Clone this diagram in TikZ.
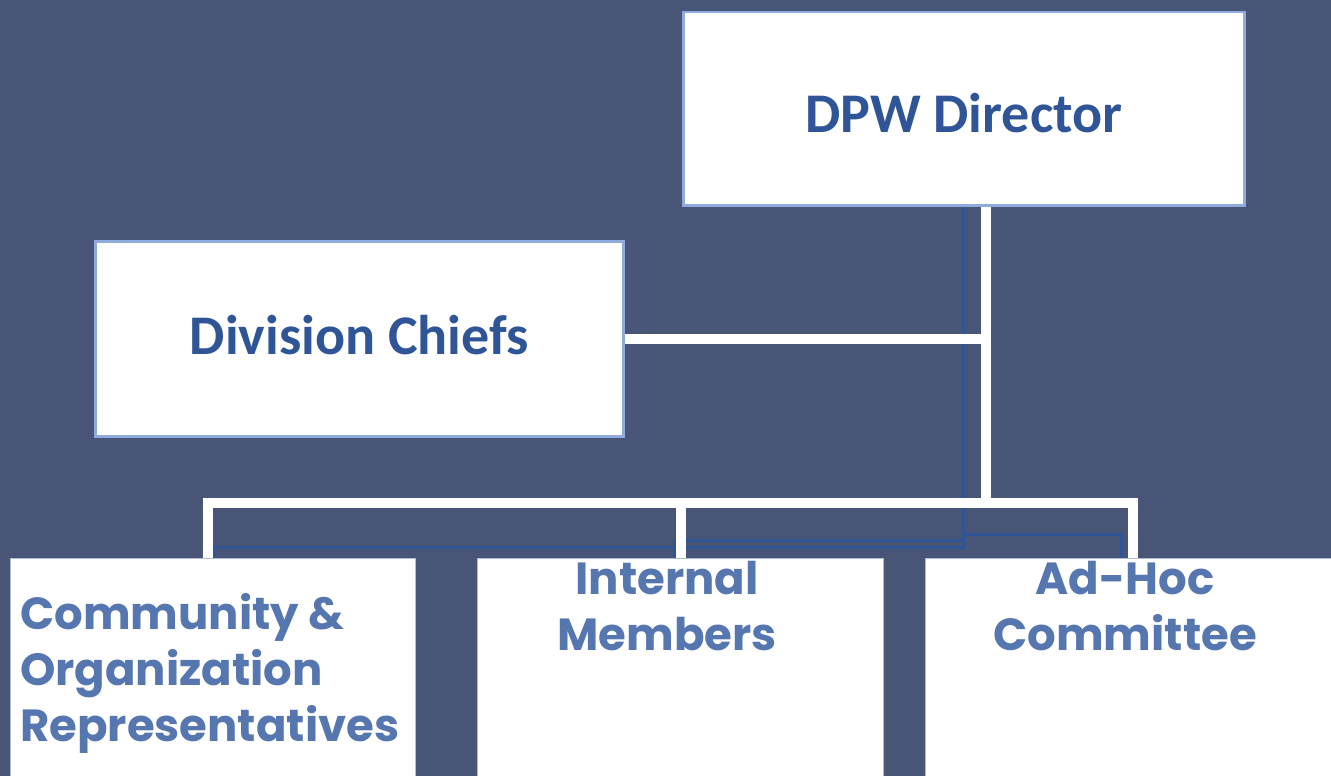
\documentclass[tikz,border=0pt]{standalone}
\usepackage{fontspec}
\setmainfont{Carlito}
\newfontfamily\popfont{Poppins}
\usetikzlibrary{positioning,calc}
\definecolor{bgslate}{RGB}{72,85,119}
\definecolor{boxedge}{RGB}{143,170,220}
\definecolor{faintedge}{RGB}{176,188,214}
\definecolor{darktitle}{RGB}{47,85,151}
\definecolor{lighttitle}{RGB}{86,118,175}
\definecolor{thinlink}{RGB}{47,85,151}

\begin{document}
\begin{tikzpicture}[x=1pt, y=-1pt,
    topbox/.style={draw=boxedge, line width=2.5pt, fill=white, anchor=north west, inner sep=0pt},
    lowbox/.style={draw=faintedge, line width=1pt, fill=white, anchor=north west, inner sep=0pt, minimum height=240pt},
    toptext/.style={inner sep=0pt, text=darktitle, font=\fontsize{56}{60}\selectfont\bfseries},
    lowtext/.style={inner sep=0pt, text=lighttitle, font=\popfont\bfseries\fontsize{45}{56}\selectfont},
    link/.style={draw=white, line width=10pt},
    faintlink/.style={draw=thinlink, line width=3pt}]
    \useasboundingbox (0,0) rectangle (1331,776);
    \fill[bgslate] (0,0) rectangle (1331,776);

    % boxes
    \node[topbox, minimum width=561pt, minimum height=193pt] (dir) at (682,11) {};
    \node[topbox, minimum width=528pt, minimum height=195pt] (chiefs) at (94,240) {};
    \node[lowbox, minimum width=405pt] (commrep) at (10,558) {};
    \node[lowbox, minimum width=406pt] (internal) at (477,558) {};
    \node[lowbox, minimum width=415pt] (adhoc) at (925,558) {};

    % old connectors left behind the white ones
    \draw[faintlink] (dir.south) |- ([yshift=11pt]commrep.north) -- (commrep.north);
    \draw[faintlink] ([yshift=-334pt]dir.south) -| ([xshift=-6pt]internal.north);
    \draw[faintlink] ([yshift=-328pt]dir.south) -| ([xshift=-12pt]adhoc.north);

    % white connectors
    \coordinate (trunk) at (986,508);
    \coordinate (busL) at (208,503);
    \coordinate (busR) at (1138,503);
    \draw[link] (trunk |- dir.south) -- (trunk);
    \draw[link] (chiefs.east) -- ([xshift=5pt]chiefs.east -| trunk);
    \draw[link] (busL |- commrep.north) -- (busL) -- (busR);
    \draw[link] ([yshift=-5pt]busR -| internal.north) -- (internal.north);
    \draw[link] ([yshift=-5pt]busR -| adhoc.north) -- (adhoc.north);

    % texts
    \node[toptext] (dirlabel) at ([yshift=-4pt]dir.center) {DPW Director};
    \node[toptext] (chiefslabel) at ([yshift=4pt]chiefs.center) {Division Chiefs};
    \node[lowtext, anchor=north west, align=left] (commreplabel) at (20,593) {Community \&\\Organization\\Representatives};
    \node[lowtext, anchor=north, align=center] (internallabel) at (667,561) {Internal\\Members};
    \node[lowtext, anchor=north, align=center] (adhoclabel) at (1125,561) {Ad-Hoc\\Committee};
\end{tikzpicture}
\end{document}
